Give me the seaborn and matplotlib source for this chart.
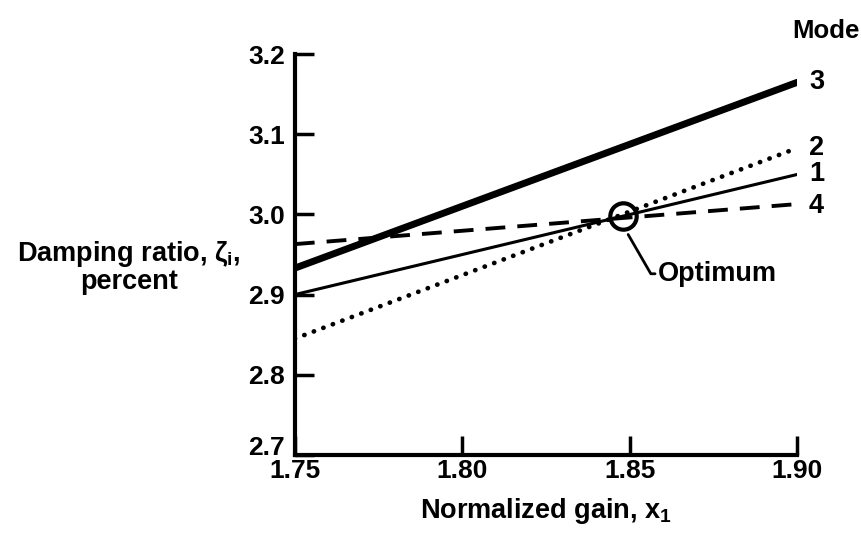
import matplotlib
matplotlib.use("Agg")
import matplotlib.pyplot as plt
import matplotlib.transforms as mtransforms
import seaborn as sns
import pandas as pd

# data
gain = [1.75, 1.90]
mode1 = [2.900, 3.050]
mode2 = [2.845, 3.083]
mode3 = [2.933, 3.165]
mode4 = [2.963, 3.013]
optimum_x = [1.848]
optimum_y = [2.998]
x_ticks = [1.75, 1.80, 1.85, 1.90]
x_tick_labels = ["1.75", "1.80", "1.85", "1.90"]
y_ticks = [2.7, 2.8, 2.9, 3.0, 3.1, 3.2]
y_tick_labels = ["2.7", "2.8", "2.9", "3.0", "3.1", "3.2"]

sns.set_style("ticks")
plt.rcParams['font.family'] = ['Liberation Sans', 'DejaVu Sans']
plt.rcParams['font.weight'] = 'bold'
plt.rcParams['text.color'] = 'black'
plt.rcParams['axes.labelcolor'] = 'black'
plt.rcParams['xtick.color'] = 'black'
plt.rcParams['ytick.color'] = 'black'
plt.rcParams['axes.edgecolor'] = 'black'
plt.rcParams['mathtext.fontset'] = 'custom'
plt.rcParams['mathtext.rm'] = 'Liberation Sans:bold'
plt.rcParams['mathtext.it'] = 'Liberation Sans:bold'
plt.rcParams['mathtext.bf'] = 'Liberation Sans:bold'

FS = 19.5

fig = plt.figure(figsize=(8.62, 5.37), dpi=100)
ax = fig.add_axes([0.342, 0.153, 0.583, 0.746])

styles = {
    "3": dict(lw=5.0, ls="-"),
    "1": dict(lw=2.2, ls="-"),
    "2": dict(lw=3.4, ls=(0, (0.05, 2.1)), dash_capstyle="round"),
    "4": dict(lw=2.8, ls=(0, (5.1, 3.1))),
}
series = {"1": mode1, "2": mode2, "3": mode3, "4": mode4}
for name, vals in series.items():
    df = pd.DataFrame({"x": gain, "y": vals})
    st = styles[name]
    sns.lineplot(data=df, x="x", y="y", ax=ax, color="black",
                 lw=st["lw"], legend=False)
    l = ax.lines[-1]
    l.set_linestyle(st["ls"])
    if "dash_capstyle" in st:
        l.set_dash_capstyle(st["dash_capstyle"])

# optimum circle
ax.plot(optimum_x, optimum_y, marker="o", ms=19, mfc="none", mec="black",
        mew=3, ls="none", zorder=5)
ax.annotate("Optimum", xy=(1.8495, 2.975), xytext=(1.8585, 2.926),
            ha="left", va="center", fontsize=FS, fontweight="bold",
            arrowprops=dict(arrowstyle="-", lw=2, color="black",
                            shrinkA=0, shrinkB=0,
                            connectionstyle="angle,angleA=180,angleB=-60,rad=0"))

# mode labels
label_offsets = {"3": 0.0, "2": 0.0, "1": 0.0, "4": -0.003}
for name, vals in series.items():
    ax.text(1.9035, vals[-1] + label_offsets[name], name, ha="left", va="center",
            fontsize=FS, fontweight="bold", clip_on=False)
fig.text(0.997, 0.942, "Mode", ha="right", va="center", fontsize=FS - 1,
         fontweight="bold")

ax.set_xlim(1.75, 1.90)
ax.set_ylim(2.7, 3.2)
ax.set_xticks(x_ticks)
ax.set_xticklabels(x_tick_labels)
ax.set_yticks(y_ticks)
ax.set_yticklabels(y_tick_labels)
ax.tick_params(direction="in", length=14, width=2.5, labelsize=FS - 0.5)
ax.tick_params(axis="y", pad=7)
ax.tick_params(axis="x", pad=3)
for lab in ax.get_xticklabels() + ax.get_yticklabels():
    lab.set_fontweight("bold")
# lift the lowest y label above the corner, as in the reference
lab0 = ax.get_yticklabels()[0]
lab0.set_transform(lab0.get_transform() +
                   mtransforms.ScaledTranslation(0, 7 / 72, fig.dpi_scale_trans))
sns.despine(ax=ax)
for s in ["left", "bottom"]:
    ax.spines[s].set_linewidth(3)
ax.set_xlabel("Normalized gain, $\\mathregular{x_1}$", fontsize=FS,
              fontweight="bold", labelpad=9)
ax.set_ylabel("")
fig.text(0.150, 0.503, "Damping ratio, $\\zeta_\\mathregular{i}$,\npercent",
         ha="center", va="center", fontsize=FS, fontweight="bold",
         linespacing=1.0)

fig.savefig("out.png", dpi=100)
